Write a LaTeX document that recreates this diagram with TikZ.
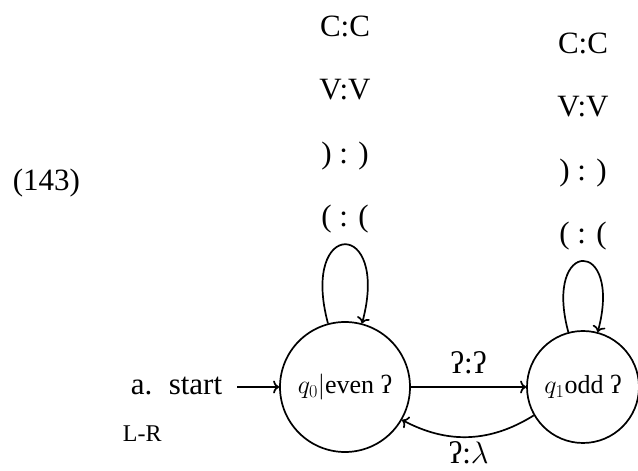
\RequirePackage{fix-cm}
\documentclass[tikz,border=0pt]{standalone}
\usepackage{fontspec}
\setmainfont{Liberation Serif}
\usetikzlibrary{arrows.meta}
\begin{document}
\begin{tikzpicture}[x=1pt,y=1pt, line width=1.7pt, >={To[length=6pt,width=13pt]},
  every node/.style={font=\fontsize{31}{38}\selectfont},
  statebox/.style={circle, draw, inner sep=0pt, font=\fontsize{26}{30}\selectfont},
  looplbl/.style={align=center, inner sep=0pt, anchor=south, font=\fontsize{31}{63.5}\selectfont},
  plain/.style={inner sep=0pt},
  ]
\useasboundingbox (0,0) rectangle (638,471);
\node[statebox, minimum size=130pt] (q0) at (345,84) {$q_0|$even ʔ};
\node[statebox, minimum size=112pt] (q1) at (583,84) {$q_1$odd ʔ};
\node[plain, anchor=base west] (num) at (12,280) {(143)};
\node[inner ysep=0pt, inner xsep=14pt, anchor=base east] (st) at (237,76) {a.\hspace{0.53em}start};
\node[plain, anchor=base west, font=\fontsize{24}{28}\selectfont] (lr) at (122,29) {L-R};
\draw[->] (st.east |- q0.west) -- (q0.west);
\draw[->] (q0.105) .. controls +(105:109) and +(75:109) .. node[pos=0.5, looplbl, yshift=10pt] (l0) {C:C\\V:V\\) : )\\( : (} (q0.75);
\draw[->] (q1.105) .. controls +(105:98) and +(75:98) .. node[pos=0.5, looplbl, yshift=10pt] (l1) {C:C\\V:V\\) : )\\( : (} (q1.75);
\draw[->] (q0) -- node[plain, above=12pt] (e01) {ʔ:ʔ} (q1);
\draw[->] (q1) to[bend left=30] node[plain, below=4pt] (e10) {ʔ:$\lambda$} (q0);
\end{tikzpicture}
\end{document}
